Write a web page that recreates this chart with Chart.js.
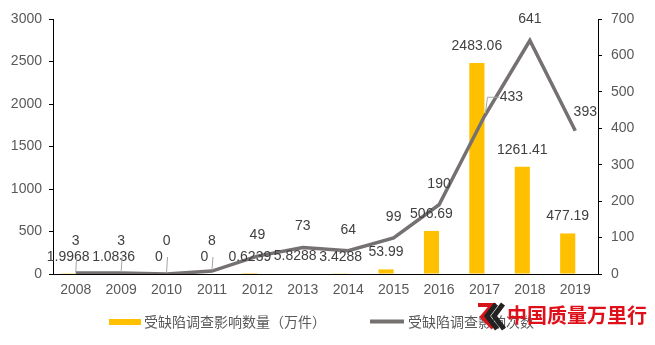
<!DOCTYPE html>
<html>
<head>
<meta charset="utf-8">
<script src="https://cdn.jsdelivr.net/npm/chart.js@4.4.0/dist/chart.umd.min.js"></script>
<style>
    html, body { margin: 0; padding: 0; background: #fff; }
    #wrap { width: 655px; height: 345px; }
</style>
</head>
<body>
<div id="wrap"><canvas id="chart" width="655" height="345"></canvas></div>
<script>
// Data
const years = ['2008', '2009', '2010', '2011', '2012', '2013', '2014', '2015', '2016', '2017', '2018', '2019'];
const affectedUnits = [1.9968, 1.0836, 0, 0, 0.6239, 5.8288, 3.4288, 53.99, 506.69, 2483.06, 1261.41, 477.19];
const investigations = [3, 3, 0, 8, 49, 73, 64, 99, 190, 433, 641, 393];
const legendLabels = ['受缺陷调查影响数量（万件）', '受缺陷调查影响次数'];
const watermarkText = '中国质量万里行';

const BAR_COLOR = '#FFC000';
const LINE_COLOR = '#767171';
const NUM_FONT = '14px "Liberation Sans", Arial, sans-serif';
const CJK_FONT = '14px "Noto Sans CJK SC", sans-serif';

// Data labels drawn on top of bars and line points
const valueLabels = {
    id: 'valueLabels',
    afterDatasetsDraw(chart) {
        const ctx = chart.ctx;
        ctx.save();
        ctx.font = NUM_FONT;
        ctx.fillStyle = '#404040';
        ctx.textAlign = 'center';
        ctx.textBaseline = 'middle';

        // bar labels
        chart.getDatasetMeta(1).data.forEach((bar, i) => {
            ctx.fillText(String(affectedUnits[i]), bar.x, bar.y - 17);
        });

        // line labels, pushed up near the axis so they clear the bar labels
        const base = chart.scales.y1.getPixelForValue(0);
        chart.getDatasetMeta(0).data.forEach((pt, i) => {
            let lx = pt.x;
            let ly = Math.min(pt.y - 21, base - 33);
            if (i === 9) { lx = pt.x + 27; ly = pt.y - 19; }
            if (i === 11) { lx = pt.x + 10; ly = pt.y - 19; }
            ctx.fillText(String(investigations[i]), lx, ly);

            ctx.strokeStyle = '#a6a6a6';
            ctx.lineWidth = 1;
            if (pt.y - 21 > base - 33) {
                ctx.beginPath();
                ctx.moveTo(lx + 1, ly + 16);
                ctx.lineTo(pt.x, pt.y - 1);
                ctx.stroke();
            }
            if (i === 9) {
                ctx.beginPath();
                ctx.moveTo(lx - 12, ly);
                ctx.lineTo(pt.x + 3, ly);
                ctx.lineTo(pt.x + 1, pt.y - 3);
                ctx.stroke();
            }
        });
        ctx.restore();
    }
};

// Legend and watermark at the bottom
const bottomLegend = {
    id: 'bottomLegend',
    afterDraw(chart) {
        const ctx = chart.ctx;
        ctx.save();
        ctx.font = CJK_FONT;
        ctx.textAlign = 'left';
        ctx.textBaseline = 'middle';

        ctx.fillStyle = BAR_COLOR;
        ctx.fillRect(109, 319, 32, 6);
        ctx.fillStyle = '#595959';
        ctx.fillText(legendLabels[0], 144, 322);

        ctx.strokeStyle = LINE_COLOR;
        ctx.lineWidth = 4;
        ctx.beginPath();
        ctx.moveTo(370, 321.5);
        ctx.lineTo(404, 321.5);
        ctx.stroke();
        ctx.fillText(legendLabels[1], 408, 322);

        // watermark logo
        ctx.lineJoin = 'miter';
        ctx.strokeStyle = '#d7141a';
        ctx.lineWidth = 4;
        ctx.beginPath();
        ctx.moveTo(478, 305);
        ctx.lineTo(492, 305);
        ctx.lineTo(482, 317);
        ctx.lineTo(493, 328);
        ctx.stroke();
        ctx.strokeStyle = '#222';
        ctx.lineWidth = 5;
        ctx.beginPath();
        ctx.moveTo(496, 304);
        ctx.lineTo(487, 316);
        ctx.lineTo(497, 329);
        ctx.stroke();
        ctx.beginPath();
        ctx.moveTo(503, 304);
        ctx.lineTo(494, 316);
        ctx.lineTo(504, 329);
        ctx.stroke();

        ctx.fillStyle = '#e0101a';
        ctx.font = 'bold 20px "Noto Sans CJK SC", sans-serif';
        ctx.fillText(watermarkText, 507, 315);
        ctx.restore();
    }
};

const tickFont = { family: '"Liberation Sans", Arial, sans-serif', size: 14 };

const ctx = document.getElementById('chart').getContext('2d');
new Chart(ctx, {
    type: 'bar',
    data: {
        labels: years,
        datasets: [
            {
                type: 'line',
                label: legendLabels[1],
                data: investigations,
                yAxisID: 'y1',
                borderColor: LINE_COLOR,
                borderWidth: 3.5,
                pointRadius: 0,
                tension: 0,
                fill: false
            },
            {
                label: legendLabels[0],
                data: affectedUnits,
                yAxisID: 'y',
                backgroundColor: BAR_COLOR,
                categoryPercentage: 0.667,
                barPercentage: 1
            },
            {
                // empty second series, keeps bars on the left half of each slot
                label: '',
                data: [],
                yAxisID: 'y',
                categoryPercentage: 0.667,
                barPercentage: 1
            }
        ]
    },
    options: {
        responsive: false,
        animation: false,
        layout: { padding: { top: 19, left: 0, right: 0, bottom: 0 } },
        plugins: {
            legend: { display: false },
            tooltip: { enabled: false }
        },
        scales: {
            x: {
                grid: { display: false, drawTicks: false },
                border: { display: true, color: '#000', width: 1 },
                ticks: { color: '#595959', font: tickFont, padding: 8 },
                afterFit(scale) { scale.height = 71; }
            },
            y: {
                position: 'left',
                min: 0,
                max: 3000,
                grid: { drawOnChartArea: false, drawTicks: true, tickLength: 4, color: '#000' },
                border: { display: true, color: '#000', width: 1 },
                ticks: { stepSize: 500, color: '#595959', font: tickFont, padding: 7, callback: v => String(v) },
                afterFit(scale) { scale.width = 53; }
            },
            y1: {
                position: 'right',
                min: 0,
                max: 700,
                grid: { drawOnChartArea: false, drawTicks: true, tickLength: 4, color: '#000' },
                border: { display: true, color: '#000', width: 1 },
                ticks: { stepSize: 100, color: '#595959', font: tickFont, padding: 9, callback: v => String(v) },
                afterFit(scale) { scale.width = 57; }
            }
        }
    },
    plugins: [valueLabels, bottomLegend]
});
</script>
</body>
</html>
